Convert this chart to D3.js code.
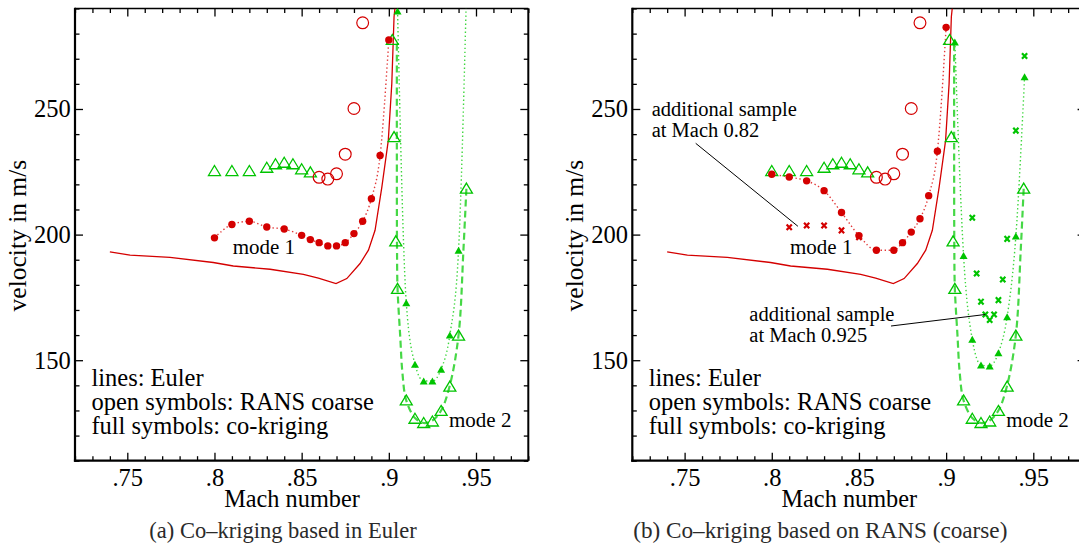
<!DOCTYPE html>
<html>
<head>
<meta charset="utf-8">
<script src="https://cdn.jsdelivr.net/npm/d3@7"></script>
<style>
  body { margin: 0; background: #fff; }
  svg text { font-family: "Liberation Serif", "Times New Roman", serif; fill: #000; }
</style>
</head>
<body>
<svg id="chart" width="1079" height="554"></svg>
<script>
// ---- axes ----
const machDomain = [0.72, 0.98];
const velocityDomain = [110, 290];
const machTicks = [0.75, 0.8, 0.85, 0.9, 0.95];
const velocityTicks = [150, 200, 250];

// ---- Euler (lines) ----
const eulerMode1Mach = [0.74, 0.7516, 0.7745, 0.7993, 0.8108, 0.8319, 0.851, 0.8596, 0.8697, 0.8759, 0.8835, 0.8883, 0.8921, 0.896, 0.8997, 0.9017, 0.903, 0.9035];
const eulerMode1Vel  = [193.1, 191.8, 190.9, 188.9, 187.5, 186.2, 184.2, 182.7, 180.5, 182.5, 188.5, 193.8, 201.7, 218.9, 237.5, 260, 286.7, 290];
const eulerMode2Mach = [0.9046, 0.9046, 0.9047, 0.905, 0.9065, 0.9078, 0.91, 0.915, 0.92, 0.925, 0.93, 0.935, 0.94, 0.9428, 0.9445];
const eulerMode2Vel  = [276, 235, 195, 178.6, 160, 145, 134, 127, 125, 126, 130, 140, 160, 194, 218.5];

// ---- RANS coarse (open symbols) ----
const ransCircleMach = [0.86, 0.865, 0.87, 0.875, 0.88, 0.885];
const ransCircleVel  = [222.8, 222.1, 224.2, 232, 250.2, 284.3];
const ransUpperTriMach = [0.80, 0.81, 0.82, 0.83, 0.835, 0.84, 0.845, 0.85, 0.855];
const ransUpperTriVel  = [225.5, 225.5, 225.5, 226.8, 228.2, 228.8, 228.2, 226.2, 225.0];
const ransLowerTriMach = [0.902, 0.903, 0.904, 0.905, 0.91, 0.915, 0.92, 0.925, 0.93, 0.935, 0.94, 0.9445];
const ransLowerTriVel  = [277.7, 239, 197.5, 178.6, 134.2, 126.9, 125.2, 125.8, 130, 139.7, 160, 218.5];

// ---- co-kriging based in Euler (panel a) ----
const ckEulerMode1Mach = [0.80, 0.81, 0.82, 0.83, 0.84, 0.85, 0.855, 0.86, 0.865, 0.87, 0.875, 0.88, 0.885, 0.89, 0.895, 0.90];
const ckEulerMode1Vel  = [198.7, 204, 205.3, 203, 202.2, 199.7, 198, 196.8, 195.5, 195.5, 196.8, 200.4, 205.3, 214.3, 231.5, 277.5];
const ckEulerMode2Mach = [0.905, 0.91, 0.915, 0.92, 0.925, 0.93, 0.935, 0.94];
const ckEulerMode2Vel  = [289, 172.9, 148.4, 141.7, 141.7, 146.4, 160, 193.8];
const ckEulerMode2TailMach = [0.9443];   // fitted curve leaves through the top
const ckEulerMode2TailVel  = [290];

// ---- co-kriging based on RANS coarse (panel b) ----
const ckRansMode1Mach = [0.80, 0.81, 0.82, 0.83, 0.84, 0.85, 0.86, 0.87, 0.875, 0.88, 0.885, 0.89, 0.895, 0.90];
const ckRansMode1Vel  = [224, 222.9, 221.4, 217.5, 208.8, 199.6, 193.8, 193.8, 196.8, 201, 206.3, 215.5, 233.2, 282.5];
const ckRansMode2Mach = [0.905, 0.91, 0.915, 0.92, 0.925, 0.93, 0.935, 0.94, 0.945];
const ckRansMode2Vel  = [276.7, 191.7, 158.3, 148.1, 147.7, 153, 167.3, 199.4, 262.8];
// co-kriging with one additional sample
const extra082Mach  = [0.81, 0.82, 0.83, 0.84, 0.85];
const extra082Vel   = [202.9, 203.6, 203.6, 201.7, 199.0];
const extra0925Mach = [0.915, 0.9175, 0.92, 0.9225, 0.925, 0.9275, 0.93, 0.9325, 0.935, 0.94, 0.945];
const extra0925Vel  = [206.7, 184.5, 173.3, 168.2, 166, 168.2, 173.9, 182.1, 198.3, 241.4, 271.1];

// ---- texts ----
const legendLines = ["lines: Euler", "open symbols: RANS coarse", "full symbols: co-kriging"];
const captions = ["(a) Co\u2013kriging based in Euler", "(b) Co\u2013kriging based on RANS (coarse)"];

const zip = (xs, ys) => xs.map((m, i) => [m, ys[i]]);

const RED = "#d40000", RED_DOT = "#e23a3a";
const GREEN = "#00c400", GREEN_LINE = "#46d846", GREEN_DOT = "#3fd63f";

const svg = d3.select("#chart");
const TOP = 8.5, BOTTOM = 460.7;

const panels = [
  {
    key: "a", left: 75, right: 528.3, captionX: 283,
    ck1: zip(ckEulerMode1Mach, ckEulerMode1Vel),
    ck2: zip(ckEulerMode2Mach, ckEulerMode2Vel),
    ck2Curve: zip(ckEulerMode2Mach, ckEulerMode2Vel).concat(zip(ckEulerMode2TailMach, ckEulerMode2TailVel)),
    extras: []
  },
  {
    key: "b", left: 632.3, right: 1085.6, captionX: 820.3,
    ck1: zip(ckRansMode1Mach, ckRansMode1Vel),
    ck2: zip(ckRansMode2Mach, ckRansMode2Vel),
    ck2Curve: zip(ckRansMode2Mach, ckRansMode2Vel),
    extras: [
      { pts: zip(extra082Mach, extra082Vel), color: RED },
      { pts: zip(extra0925Mach, extra0925Vel), color: GREEN }
    ],
    notes: [
      { lines: ["additional sample", "at Mach 0.82"], x: 651.7, y: 115.5, from: [695.7, 143.3], toData: [0.815, 203.3] },
      { lines: ["additional sample", "at Mach 0.925"], x: 749.3, y: 320.7, from: [891, 326], toData: [0.9225, 168.2] }
    ]
  }
];

const fmtMach = d => String(d).replace(/^0/, "");
const triPath = (w, h) => `M0,${-h / 2}L${w / 2},${h / 2}L${-w / 2},${h / 2}Z`;

panels.forEach((P, pi) => {
  const x = d3.scaleLinear().domain(machDomain).range([P.left, P.right]);
  const y = d3.scaleLinear().domain(velocityDomain).range([BOTTOM, TOP]);
  const g = svg.append("g");

  const clipId = "clip-" + P.key;
  svg.append("clipPath").attr("id", clipId)
    .append("rect").attr("x", P.left).attr("y", TOP).attr("width", P.right - P.left).attr("height", BOTTOM - TOP);

  // ---- ticks ----
  const minorX = d3.range(72, 99).map(d => d / 100).filter(d => !machTicks.some(t => Math.abs(t - d) < 1e-9));
  const minorY = d3.range(110, 291, 10).filter(d => !velocityTicks.includes(d));
  const axes = g.append("g").attr("class", "axes");

  const addAxis = (gen, transform, values, size, labels, pad) => {
    const a = axes.append("g").attr("transform", transform)
      .call(gen.tickValues(values).tickSize(-size).tickSizeOuter(0).tickPadding(pad || 0)
        .tickFormat(labels ? labels : () => ""));
    a.select(".domain").remove();
    a.selectAll(".tick line").attr("stroke", "#000").attr("stroke-width", 1.3);
    return a;
  };

  const xb = addAxis(d3.axisBottom(x), `translate(0,${BOTTOM})`, machTicks, 8, fmtMach, 8.2);
  addAxis(d3.axisBottom(x), `translate(0,${BOTTOM})`, minorX, 4.5);
  addAxis(d3.axisTop(x), `translate(0,${TOP})`, machTicks, 8);
  addAxis(d3.axisTop(x), `translate(0,${TOP})`, minorX, 4.5);
  const yl = addAxis(d3.axisLeft(y), `translate(${P.left},0)`, velocityTicks, 8, d => d, 4.3);
  addAxis(d3.axisLeft(y), `translate(${P.left},0)`, minorY, 4.5);
  addAxis(d3.axisRight(y), `translate(${P.right},0)`, velocityTicks, 8);
  addAxis(d3.axisRight(y), `translate(${P.right},0)`, minorY, 4.5);

  [xb, yl].forEach(a => a.selectAll(".tick text")
    .attr("font-family", "Liberation Serif, Times New Roman, serif")
    .attr("font-size", 24.5).attr("fill", "#000"));

  // frame
  const frame = g.append("g").attr("stroke", "#000").attr("fill", "none");
  frame.append("line").attr("x1", P.left).attr("x2", P.right).attr("y1", TOP).attr("y2", TOP).attr("stroke-width", 1.4);
  frame.append("line").attr("x1", P.right).attr("x2", P.right).attr("y1", TOP).attr("y2", BOTTOM).attr("stroke-width", 2);
  frame.append("line").attr("x1", P.left).attr("x2", P.left).attr("y1", TOP - 0.7).attr("y2", BOTTOM + 1.1).attr("stroke-width", 2.2);
  frame.append("line").attr("x1", P.left - 1.1).attr("x2", P.right).attr("y1", BOTTOM).attr("y2", BOTTOM).attr("stroke-width", 2.2);

  // axis titles
  g.append("text").attr("transform", `translate(${P.left - 57.5},${(TOP + BOTTOM) / 2 + 1}) rotate(-90)`)
    .attr("text-anchor", "middle").attr("dominant-baseline", "central")
    .attr("font-size", 25.5).text("velocity in m/s");
  g.append("text").attr("x", P.left + 217).attr("y", 506.5)
    .attr("text-anchor", "middle").attr("font-size", 24.3).text("Mach number");

  // caption
  svg.append("text").attr("x", P.captionX).attr("y", 537.5).attr("text-anchor", "middle")
    .attr("font-size", pi === 0 ? 22.5 : 23.2).style("fill", "#2a2a2a")
    .text(captions[pi]);

  // ---- data layer ----
  const plot = g.append("g").attr("clip-path", `url(#${clipId})`);
  const line = (curve) => d3.line().x(d => x(d[0])).y(d => y(d[1])).curve(curve);

  // Euler mode 1 (solid)
  plot.append("path").datum(zip(eulerMode1Mach, eulerMode1Vel))
    .attr("d", line(d3.curveLinear)).attr("fill", "none").attr("stroke", RED).attr("stroke-width", 1.3);
  // Euler mode 2 (dashed)
  plot.append("path").datum(zip(eulerMode2Mach, eulerMode2Vel))
    .attr("d", line(d3.curveCatmullRom.alpha(0.5))).attr("fill", "none")
    .attr("stroke", GREEN_LINE).attr("stroke-width", 2.2).attr("stroke-dasharray", "7,4");
  // co-kriging fits (dotted)
  plot.append("path").datum(P.ck1)
    .attr("d", line(d3.curveMonotoneX)).attr("fill", "none")
    .attr("stroke", RED_DOT).attr("stroke-width", 1.4).attr("stroke-dasharray", "1.4,2.6");
  plot.append("path").datum(P.ck2Curve)
    .attr("d", line(d3.curveMonotoneX)).attr("fill", "none")
    .attr("stroke", GREEN_DOT).attr("stroke-width", 1.4).attr("stroke-dasharray", "1.4,2.6");

  // open symbols: RANS coarse
  plot.selectAll(".rans-tri").data(zip(ransUpperTriMach, ransUpperTriVel).concat(zip(ransLowerTriMach, ransLowerTriVel)))
    .join("path").attr("class", "rans-tri")
    .attr("transform", d => `translate(${x(d[0])},${y(d[1])})`)
    .attr("d", triPath(12, 10)).attr("fill", "none").attr("stroke", GREEN).attr("stroke-width", 1.3);
  plot.selectAll(".rans-circ").data(zip(ransCircleMach, ransCircleVel))
    .join("circle").attr("class", "rans-circ")
    .attr("cx", d => x(d[0])).attr("cy", d => y(d[1])).attr("r", 5.9)
    .attr("fill", "none").attr("stroke", RED).attr("stroke-width", 1.2);

  // additional sample results (x markers)
  P.extras.forEach(ex => {
    plot.selectAll(null).data(ex.pts).join("path")
      .attr("transform", d => `translate(${x(d[0])},${y(d[1])})`)
      .attr("d", "M-2.6,-2.8L2.6,2.8M2.6,-2.8L-2.6,2.8")
      .attr("stroke", ex.color).attr("stroke-width", 2.2).attr("fill", "none");
  });

  // full symbols: co-kriging
  plot.selectAll(".ck1").data(P.ck1).join("circle").attr("class", "ck1")
    .attr("cx", d => x(d[0])).attr("cy", d => y(d[1])).attr("r", 3.7).attr("fill", RED);
  plot.selectAll(".ck2").data(P.ck2).join("path").attr("class", "ck2")
    .attr("transform", d => `translate(${x(d[0])},${y(d[1])})`)
    .attr("d", triPath(8, 7)).attr("fill", GREEN);

  // ---- in-plot texts ----
  g.append("text").attr("x", P.left + 157.7).attr("y", 254).attr("font-size", 21).text("mode 1");
  g.append("text").attr("x", P.left + 374).attr("y", 427).attr("font-size", 21).text("mode 2");
  legendLines.forEach((t, i) => {
    g.append("text").attr("x", P.left + 16.4).attr("y", 386 + i * 24).attr("font-size", 24.5).text(t);
  });

  (P.notes || []).forEach(n => {
    g.append("line").attr("x1", n.from[0]).attr("y1", n.from[1])
      .attr("x2", x(n.toData[0])).attr("y2", y(n.toData[1]))
      .attr("stroke", "#000").attr("stroke-width", 1);
    n.lines.forEach((t, i) => {
      g.append("text").attr("x", n.x).attr("y", n.y + i * 21).attr("font-size", 20.5).text(t);
    });
  });
});
</script>
</body>
</html>
